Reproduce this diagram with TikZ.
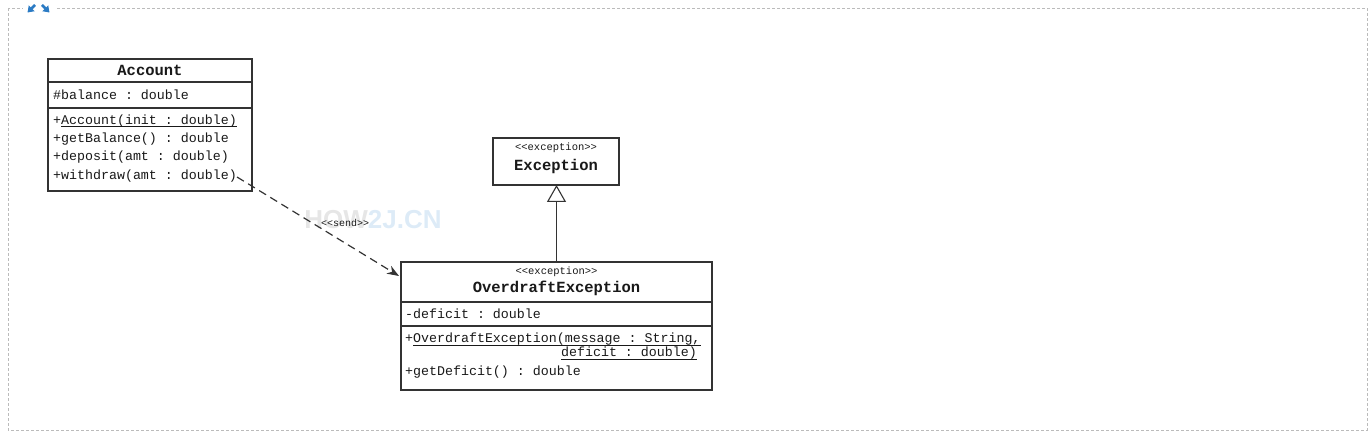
\documentclass[tikz,border=0pt]{standalone}
\usepackage{fontspec}
\setmonofont{Liberation Mono}
\newfontfamily\wmfont{Liberation Sans}
\usetikzlibrary{arrows.meta,calc}
\definecolor{boxline}{HTML}{333333}
\definecolor{frameline}{HTML}{BBBBBB}
\definecolor{iconblue}{HTML}{2B7BC4}
\definecolor{wmgray}{HTML}{E6E6E6}
\definecolor{wmblue}{HTML}{DDEBF7}
\newcommand\myul[1]{\setbox0\hbox{#1}\rlap{\rule[-2.4pt]{\wd0}{0.8pt}}\box0}
\begin{document}
\begin{tikzpicture}[x=1pt,y=-1pt,
  comp/.style={draw=boxline,line width=1.1pt,anchor=north west,inner sep=0pt,outer sep=0pt,fill=white},
  txt/.style={anchor=west,inner sep=0pt,font=\ttfamily\fontsize{13.3}{15}\selectfont,text=black!90},
  cname/.style={inner sep=0pt,font=\ttfamily\bfseries\fontsize{15.5}{17}\selectfont,text=black!90},
  stereo/.style={inner sep=0pt,font=\ttfamily\fontsize{10.5}{12}\selectfont,text=black!90},
  depline/.style={draw=boxline,line width=1.2pt,dash pattern=on 8pt off 5pt,-{Stealth[length=12pt,width=9pt]}},
  genline/.style={draw=boxline,line width=1.1pt,-{Triangle[open,length=17pt,width=19pt,fill=white]}}
]
\useasboundingbox (0,0) rectangle (1372,446);
% frame
\draw[frameline,line width=0.8pt,dash pattern=on 3pt off 2pt] (8,8) rectangle (1367,430);
\fill[white] (23,0) rectangle (57,14);
\draw[iconblue,line width=2.8pt,-{Triangle[length=6pt,width=8pt]}] (35,5) -- (27.5,12.5);
\draw[iconblue,line width=2.8pt,-{Triangle[length=6pt,width=8pt]}] (42,5) -- (49.5,12.5);
% watermark
\node[inner sep=0pt,font=\wmfont\bfseries\fontsize{26}{28}\selectfont] (wm) at (373,220) {\textcolor{wmgray}{HOW}\textcolor{wmblue}{2J.CN}};

% Account
\node[comp,minimum width=204pt,minimum height=23pt] (acch) at (48,59) {};
\node[comp,minimum width=204pt,minimum height=26pt] (acca) at (acch.south west) {};
\node[comp,minimum width=204pt,minimum height=83pt] (accm) at (acca.south west) {};
\node[cname] (accn) at (acch.center) {Account};
\node[txt] (acc1) at (53,95) {\#balance : double};
\node[txt] (acc2) at (53,121) {+\myul{Account(init : double)}};
\node[txt] (acc3) at (53,139) {+getBalance() : double};
\node[txt] (acc4) at (53,157.5) {+deposit(amt : double)};
\node[txt] (acc5) at (53,176) {+withdraw(amt : double)};

% Exception
\node[comp,minimum width=126pt,minimum height=47pt] (exc) at (493,138) {};
\node[stereo] (excs) at (556,148) {<<exception>>};
\node[cname] (excn) at (556,166) {Exception};

% OverdraftException
\node[comp,minimum width=311pt,minimum height=40pt] (odh) at (401,262) {};
\node[comp,minimum width=311pt,minimum height=24pt] (oda) at (odh.south west) {};
\node[comp,minimum width=311pt,minimum height=64pt] (odm) at (oda.south west) {};
\node[stereo] (ods) at (556.5,272) {<<exception>>};
\node[cname] (odn) at (556.5,288.5) {OverdraftException};
\node[txt] (od1) at (405,314) {-deficit : double};
\node[txt] (od2) at (405,339.5) {+\myul{OverdraftException(message : String,}};
\node[txt,anchor=east] (od3) at (697,353.5) {\myul{deficit : double)}};
\node[txt] (od4) at (405,372) {+getDeficit() : double};

% connectors
\coordinate (sendstart) at (237,177);
\draw[depline] (sendstart) -- ($(odh.north west)+(-2,14)$);
\node[stereo,font=\ttfamily\fontsize{10}{12}\selectfont] (sendlbl) at (345,223) {<<send>>};
\draw[genline] (odh.north) -- (odh.north |- exc.south);
\end{tikzpicture}
\end{document}
